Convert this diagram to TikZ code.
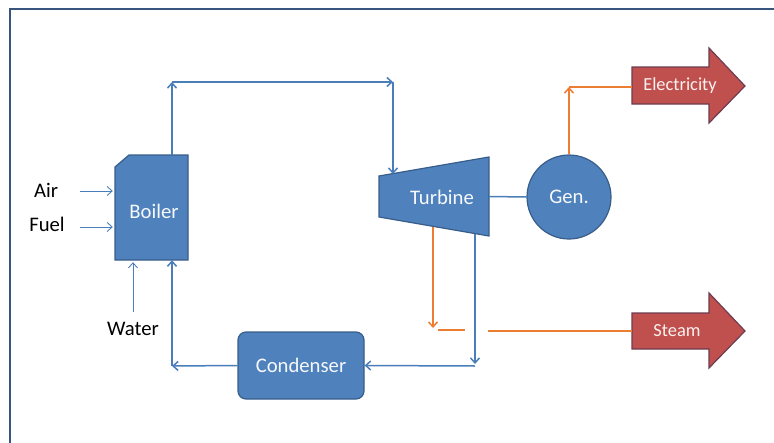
\documentclass[tikz,border=0pt]{standalone}
\usepackage{fontspec}
\setmainfont{Carlito}
\usetikzlibrary{arrows.meta}

\definecolor{unitblue}{RGB}{79,129,189}
\definecolor{unitedge}{RGB}{56,93,138}
\definecolor{pipeblue}{RGB}{74,126,187}
\definecolor{outred}{RGB}{192,80,77}
\definecolor{outedge}{RGB}{110,60,80}
\definecolor{steamline}{RGB}{237,125,49}
\definecolor{framecol}{RGB}{55,85,125}

\tikzset{
  unitshape/.style={fill=unitblue, draw=unitedge, line width=1.2pt},
  outshape/.style={fill=outred, draw=outedge, line width=1.2pt},
  unittext/.style={text=white!95!unitblue, font=\fontsize{20.7}{24}\selectfont, inner sep=0pt},
  outtext/.style={text=white!92!outred, font=\fontsize{18.4}{22}\selectfont, inner sep=0pt},
  sidetext/.style={text=black, font=\fontsize{20.7}{24}\selectfont, inner sep=0pt},
  pipe/.style={draw=pipeblue, line width=1.5pt},
  feed/.style={draw=pipeblue, line width=0.9pt},
  power/.style={draw=steamline, line width=1.5pt},
  >={Straight Barb[length=5pt,width=9pt]}
}

\begin{document}
\begin{tikzpicture}[x=1pt, y=-1pt]
  \useasboundingbox (0,0) rectangle (774,442);
  \draw[framecol, line width=2pt] (10,460) |- (790,9);

  % unit outlines
  \path[unitshape] (115,260) -- (115,167) -- (129,155) -- (188,155) -- (188,260) -- cycle;
  \path[unitshape] (379,176) -- (489,157) -- (489,236) -- (379,217) -- cycle;
  \path[outshape] (632,67) -- (709,67) -- (709,48) -- (745,86) -- (709,123) -- (709,104) -- (632,104) -- cycle;
  \path[outshape] (632,313) -- (709,313) -- (709,293) -- (745,331) -- (709,368) -- (709,349) -- (632,349) -- cycle;

  \node[minimum width=73pt, minimum height=105pt] (boiler) at (151.5,207.5) {};
  \node[unittext] (boilertext) at (154,211) {Boiler};
  \node[minimum width=110pt, minimum height=79pt] (turbine) at (434,196.5) {};
  \node[unittext] (turbinetext) at (442,197) {Turbine};
  \node[circle, unitshape, minimum size=84pt, unittext] (gen) at (569,197) {Gen.};
  \node[rectangle, rounded corners=8pt, unitshape, minimum width=126pt, minimum height=67pt, unittext] (condenser) at (301,365.5) {Condenser};

  \node[minimum width=77pt, minimum height=37pt, anchor=west] (elec) at (632,86) {};
  \node[outtext] (electext) at (680,86) {Electricity};
  \node[minimum width=77pt, minimum height=36pt, anchor=west] (steam) at (632,331) {};
  \node[outtext] (steamtext) at (677,331) {Steam};

  \node[sidetext] (air) at (46,190) {Air};
  \node[sidetext] (fuel) at (47,224) {Fuel};
  \node[sidetext] (water) at (133,329) {Water};

  \coordinate (airtail) at (80,191);
  \coordinate (fueltail) at (80,227);
  \coordinate (watertail) at (133,312);
  \coordinate (boilerout) at (172,155);
  \coordinate (topleft) at (172,82);
  \coordinate (topright) at (393,82);
  \coordinate (turbinein) at (393,174);
  \coordinate (turbineout) at (475,234);
  \coordinate (lowright) at (475,366);
  \coordinate (lowleft) at (172,366);
  \coordinate (bleed) at (433,227);
  \coordinate (bleedend) at (433,328);
  \coordinate (hopstart) at (438,330);
  \coordinate (hopleft) at (465,330);
  \coordinate (hopright) at (488,331);
  \coordinate (genup) at (569,87);

  \draw[feed,->] (airtail) -- ([xshift=-2pt]airtail -| boiler.west);
  \draw[feed,->] (fueltail) -- ([xshift=-2pt]fueltail -| boiler.west);
  \draw[feed,->] (watertail) -- ([yshift=-2pt]watertail |- boiler.south);

  \draw[pipe,->] (boilerout) -- (topleft);
  \draw[pipe,->] (topleft) -- (topright);
  \draw[pipe,->] (topright) -- (turbinein);
  \draw[pipe,->] (turbineout) -- ([yshift=2pt]lowright);
  \draw[pipe,->] (lowright) -- (condenser.east);
  \draw[pipe,->] (condenser.west) -- (lowleft);
  \draw[pipe,->] (lowleft) -- (boiler.south -| lowleft);
  \draw[pipe] (turbine.east) -- (gen.west);

  \draw[power,->] (gen.north) -- (genup);
  \draw[power] (genup) -- (genup -| elec.west);
  \draw[power,->] (bleed) -- (bleedend);
  \draw[power] (hopstart) -- (hopleft);
  \draw[power] (hopright) -- (steam.west);
\end{tikzpicture}
\end{document}
